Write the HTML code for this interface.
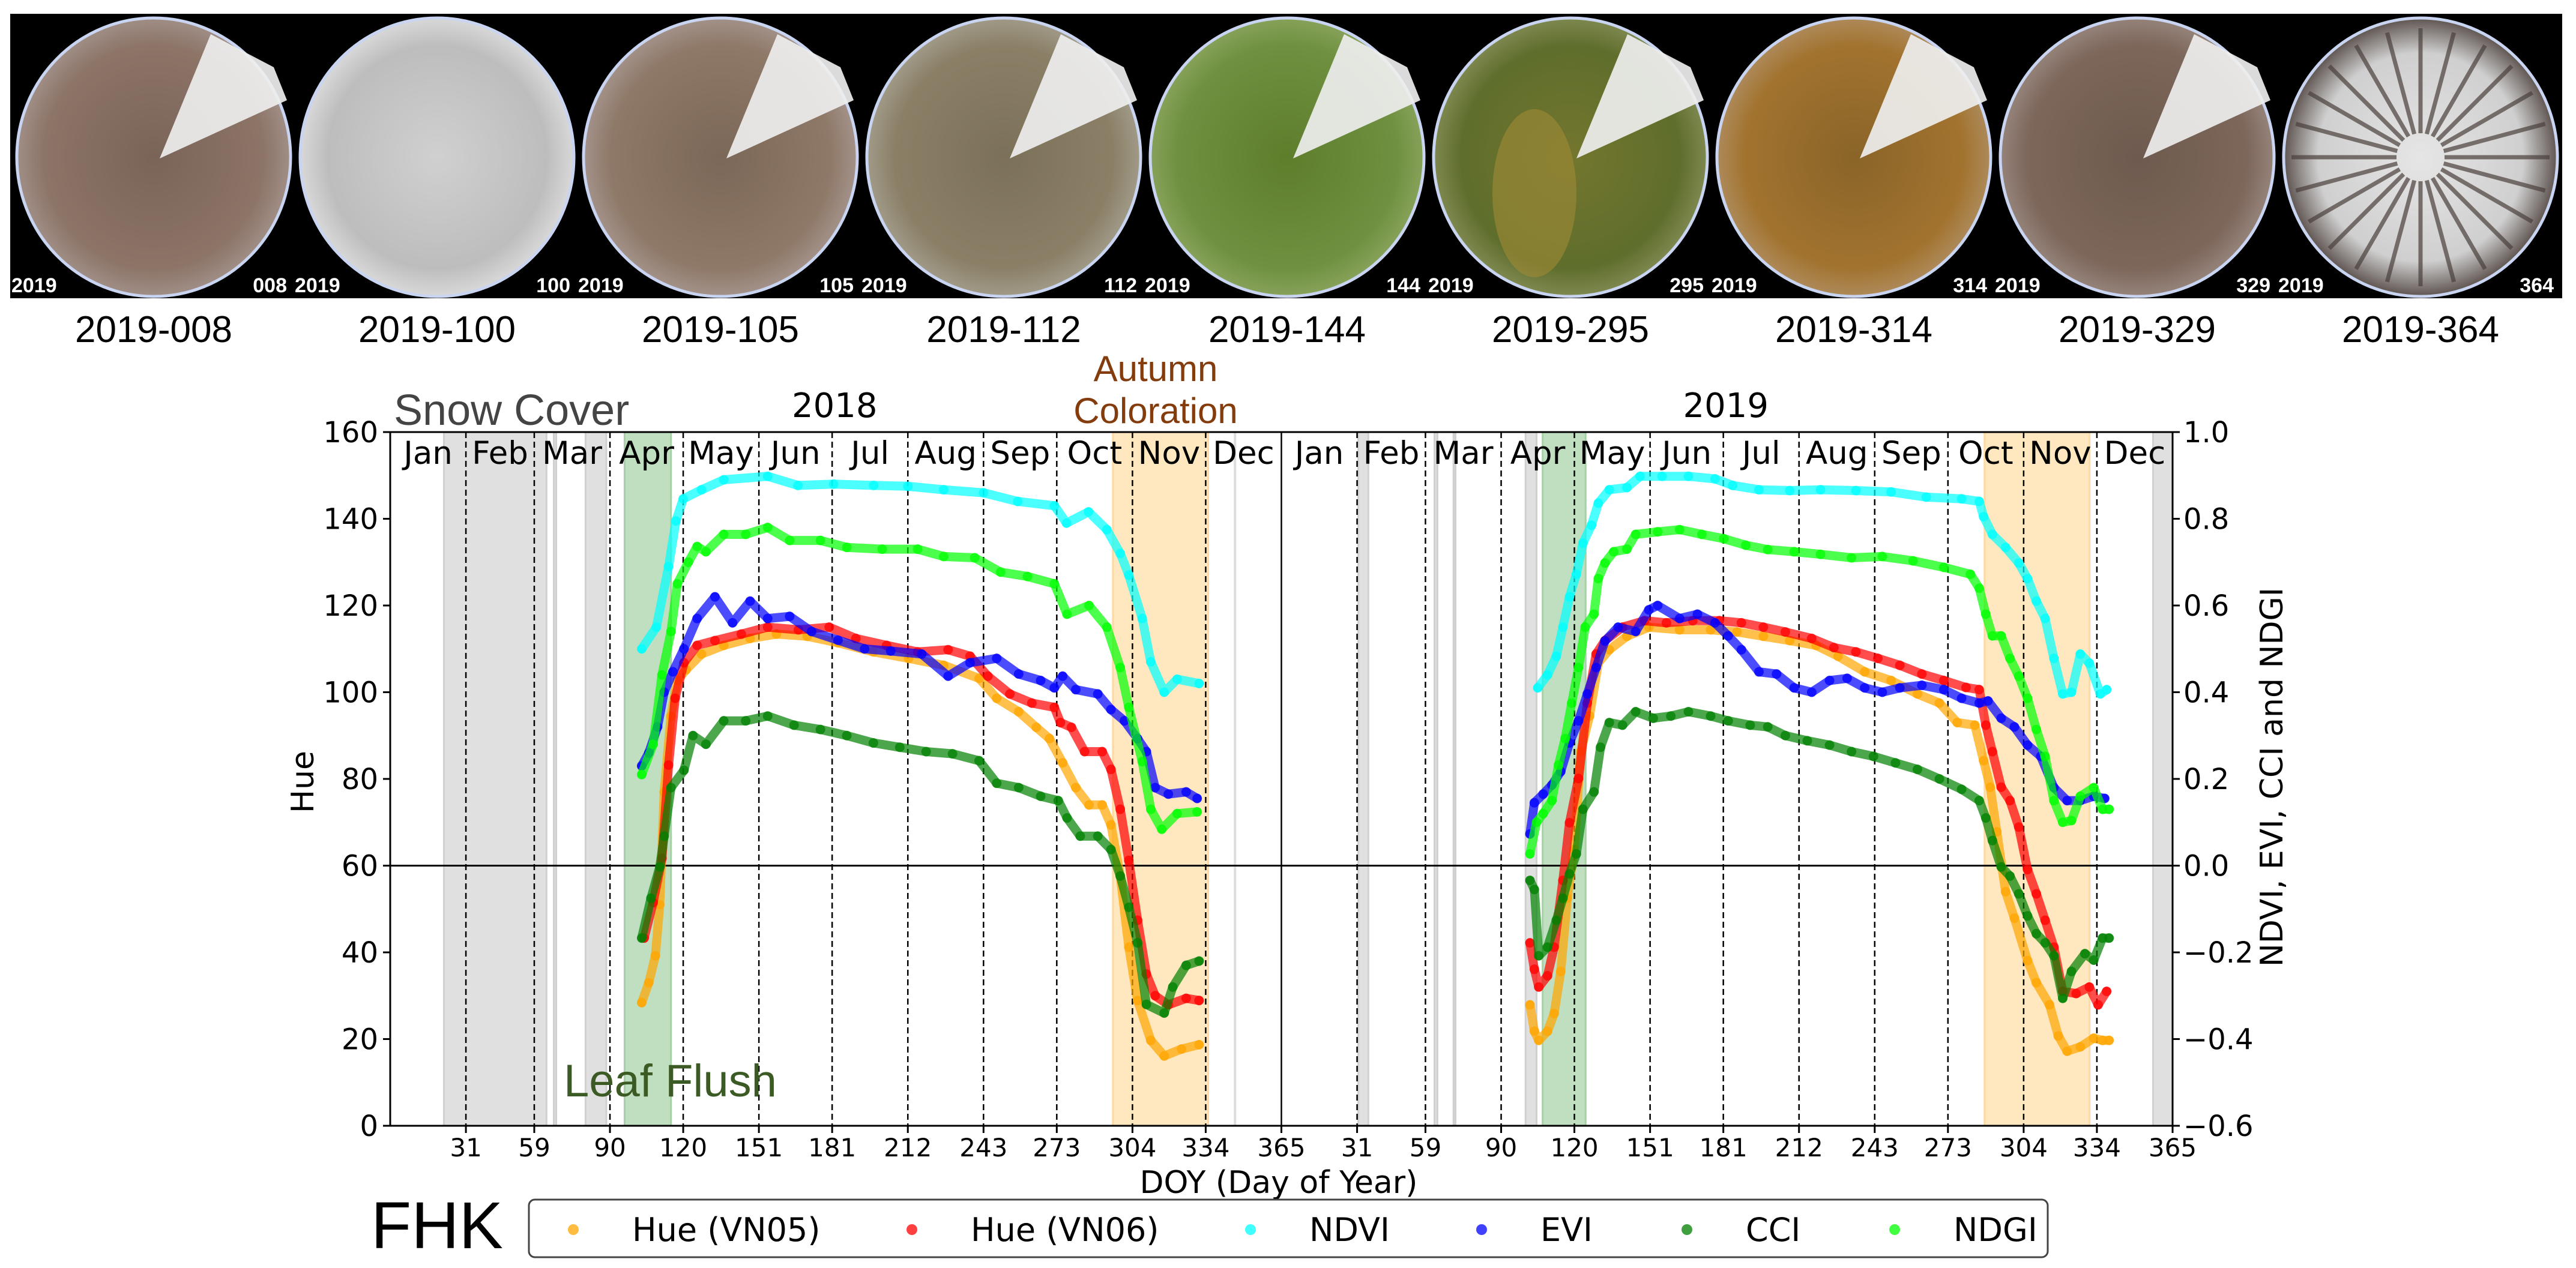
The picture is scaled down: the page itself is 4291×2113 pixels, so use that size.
<!DOCTYPE html>
<html><head><meta charset="utf-8"><title>FHK phenology chart</title>
<style>
html,body{margin:0;padding:0;background:#fff;}
svg{display:block;font-family:"DejaVu Sans","Liberation Sans",sans-serif;}
</style></head>
<body>
<svg id="chart" xmlns="http://www.w3.org/2000/svg" width="4291" height="2113" viewBox="0 0 4291 2113">
<defs>
 <radialGradient id="g0"><stop offset="0" stop-color="#7a6458"/><stop offset="0.8" stop-color="#8c7467"/><stop offset="1" stop-color="#a08e86"/></radialGradient>
 <radialGradient id="g1"><stop offset="0" stop-color="#d0d0d0"/><stop offset="0.8" stop-color="#bdbdbd"/><stop offset="1" stop-color="#d8d8d8"/></radialGradient>
 <radialGradient id="g2"><stop offset="0" stop-color="#7c6858"/><stop offset="0.8" stop-color="#8e7867"/><stop offset="1" stop-color="#a3928a"/></radialGradient>
 <radialGradient id="g3"><stop offset="0" stop-color="#7b7058"/><stop offset="0.8" stop-color="#8b8067"/><stop offset="1" stop-color="#a09a88"/></radialGradient>
 <radialGradient id="g4"><stop offset="0" stop-color="#5e7e2c"/><stop offset="0.8" stop-color="#6e9040"/><stop offset="1" stop-color="#87a25a"/></radialGradient>
 <radialGradient id="g5"><stop offset="0" stop-color="#73762e"/><stop offset="0.8" stop-color="#5f6e2c"/><stop offset="1" stop-color="#7e8850"/></radialGradient>
 <radialGradient id="g6"><stop offset="0" stop-color="#8a6428"/><stop offset="0.8" stop-color="#a2732f"/><stop offset="1" stop-color="#ad8a5a"/></radialGradient>
 <radialGradient id="g7"><stop offset="0" stop-color="#6e5a4e"/><stop offset="0.8" stop-color="#7d665a"/><stop offset="1" stop-color="#95837a"/></radialGradient>
 <radialGradient id="g8"><stop offset="0" stop-color="#e6e6e6"/><stop offset="0.75" stop-color="#cfcfcf"/><stop offset="1" stop-color="#5e5450"/></radialGradient>
</defs>
<rect x="17" y="23" width="4251" height="474" fill="#000"/>
<g id="photos"></g>
<g id="plot"></g>
</svg>
<script>
// ---------- chart data ----------
const photoLabels = ["2019-008","2019-100","2019-105","2019-112","2019-144","2019-295","2019-314","2019-329","2019-364"];
const photoDoys = ["008","100","105","112","144","295","314","329","364"];
const monthNames = ["Jan","Feb","Mar","Apr","May","Jun","Jul","Aug","Sep","Oct","Nov","Dec"];
const monthStarts = [0,31,59,90,120,151,181,212,243,273,304,334,365];
const xTickDays = [31,59,90,120,151,181,212,243,273,304,334,365];
const hueTicks = [0,20,40,60,80,100,120,140,160];
const idxTicks = [-0.6,-0.4,-0.2,0.0,0.2,0.4,0.6,0.8,1.0];
const years = [2018,2019];
// shaded periods [startDay, endDay] per year
const snow2018 = [[22,64],[67,68],[80,88.5]];
const snow2019 = [[31.5,35.6],[62.7,63.9],[70.5,71.3],[100,104.5],[357,365]];
const flush2018 = [96,115];
const flush2019 = [107,124.6];
const autumn2018 = [296,335];
const autumn2019 = [288,331];

// 2018 series
const vn05D18=[103,105.9,108.6,110.4,112.2,115,117.6,121.2,127.5,136.6,147.4,158.2,170.8,183.4,197.9,212.3,226.7,241.2,248.4,257.4,264.6,270,275.4,280.8,286.2,291.6,295.2,299,302.5,306.1,311.5,317,324.1,331.3];
const vn05V18=[28.4,33,39.2,51,77,94.5,102.7,105.2,108.8,110.8,112.4,113.4,112.9,111.4,109.3,107.8,106.2,103.2,98.6,95.5,91.9,89.3,83.7,78,74,74,69.4,57.6,41.2,28.9,19.7,16.1,17.7,18.7];
const vn06D18=[104,107.7,111.3,114,116.7,120.3,125.7,133,143.8,154.6,167.2,179.8,190.7,203.3,216,228.5,237.5,244.8,253.8,262.8,272,274.5,279,284.4,291.6,295.2,299,302.5,306.1,309.7,313.3,318.7,326,331.3];
const vn06V18=[43.3,51.5,61.7,83.2,98.6,106.8,110.8,111.9,113.4,115,114.4,115,112.4,110.8,109.3,109.8,108.3,103.7,99.6,97.5,96.5,93,91.9,86.3,86.3,82.2,73,61.2,47.4,35,30,27.9,29.4,28.9];
const ndviD18=[103,109,114,117,120,127.5,136.6,154.6,167,181.6,198,212,226.7,243,257,272,277,286,293.5,299,302.5,308,311.5,317,322.3,331.3];
const ndviV18=[0.50,0.55,0.69,0.795,0.846,0.867,0.89,0.898,0.877,0.88,0.877,0.875,0.867,0.86,0.84,0.83,0.79,0.816,0.775,0.72,0.67,0.57,0.47,0.40,0.43,0.42];
const eviD18=[103,105.9,109.5,112.2,115.8,120.3,125.7,133,140.2,147.4,154.6,163.6,172.6,183.4,194.3,205,217.7,228.5,237.5,248.4,257.4,266.4,272,275.4,280.8,289.8,295.2,300.7,306.1,309.7,313.3,318.7,326,330.5];
const eviV18=[0.23,0.26,0.32,0.40,0.447,0.50,0.57,0.62,0.56,0.61,0.57,0.575,0.54,0.52,0.50,0.495,0.488,0.437,0.468,0.478,0.442,0.427,0.41,0.437,0.406,0.396,0.36,0.334,0.293,0.263,0.18,0.165,0.17,0.155];
const cciD18=[103,106.8,110.4,112.2,115,120.3,124,129.3,136.6,145.6,154.6,165.4,176.2,187,197.9,208.7,219.5,230.3,241.2,248.4,257.4,266.4,273.6,277.2,282.6,289.8,295.2,299,302.5,306.1,309.7,317,320.5,326,331.3];
const cciV18=[-0.167,-0.075,-0.003,0.068,0.18,0.22,0.30,0.28,0.334,0.334,0.345,0.324,0.314,0.30,0.283,0.273,0.263,0.258,0.242,0.19,0.18,0.16,0.15,0.11,0.068,0.068,0.037,-0.024,-0.096,-0.178,-0.32,-0.34,-0.28,-0.23,-0.22];
const ndgiD18=[103,107.7,111.3,115,117.6,122.1,125.7,129.3,136.6,145.6,154.6,163.6,176.2,187,201.5,216,226.7,239.4,250,261,272,277.2,286.2,293.5,299,302.5,308,311.5,316,322.3,330.5];
const ndgiV18=[0.21,0.28,0.44,0.54,0.65,0.70,0.736,0.724,0.764,0.764,0.78,0.75,0.75,0.734,0.73,0.73,0.713,0.71,0.677,0.667,0.65,0.58,0.60,0.55,0.457,0.365,0.24,0.13,0.084,0.12,0.124];

// 2019 series
const vn05D19=[101.8,103.6,105.4,109,111.7,114.4,117.1,119.9,122.6,126.2,129.8,134.3,141.5,150.5,163.1,175.8,186.6,197.4,208.2,219,228,238.9,249.7,260.5,269.5,276.8,284,287.6,290.3,293,296.6,300.2,305.6,309.2,314.6,318.2,321.8,327.2,332.7,336.3,339];
const vn05V19=[27.9,21.8,19.7,21.8,25.9,35.6,52.5,63.7,86.3,94.5,106.8,109.8,112.9,115,114.4,114.4,113.9,112.9,111.9,110.8,108.3,104.7,102.7,99.6,97.5,93,92.4,84.2,78.1,67.8,54,47.9,38.1,33,27.9,20.7,17.2,18.2,20.2,19.7,19.7];
const vn06D19=[101.8,103.6,105.4,109,111.7,115.3,118,121.7,125.3,128.9,132.5,139.7,148.7,157.7,168.5,179.4,188.4,197.4,206.4,217.2,226.3,235.3,244.3,253.3,262.3,271.3,280.4,285.8,288.5,291.2,294.8,298.4,302,305.6,309.2,312.8,316.4,320,325.5,330.9,334.5,338];
const vn06V19=[42.2,36.1,32,34.6,41.2,56.6,69.9,80.1,97.5,108.8,111.9,115,116.5,116,116.5,116.5,116,115,113.9,112.4,110.3,109.3,107.8,106.2,104.2,102.7,101.1,100.6,92.4,86.3,78.1,75,68.9,59.1,53.5,47.4,41.2,31,30.5,32,27.9,31];
const ndviD19=[105,109,112.6,115.3,118,120.8,123.5,127,129.8,134.3,141.5,146.9,155.9,166.7,177.6,184.8,195.6,208.2,220.8,235.3,249.7,264.1,278.6,285.8,287.6,291.2,296.6,302,305.6,309.2,312.8,316.4,320,323.6,327.2,330.9,335.4,338];
const ndviV19=[0.41,0.44,0.483,0.55,0.62,0.672,0.744,0.785,0.836,0.867,0.872,0.898,0.898,0.898,0.892,0.877,0.867,0.865,0.867,0.865,0.862,0.85,0.846,0.84,0.805,0.764,0.734,0.698,0.662,0.61,0.57,0.478,0.396,0.40,0.488,0.467,0.396,0.406];
const eviD19=[101.8,103.6,107.2,110.8,114.4,118,121.7,125.3,128.9,132.5,137.9,145.1,150.5,154.1,163.1,170.4,177.6,183,188.4,195.6,202.8,210,217.2,224.5,231.7,238.9,246.1,253.3,262.3,271.3,278.6,285.8,289.4,294.8,300.2,305.6,311,316.4,321.8,327.2,332.7,337.2];
const eviV19=[0.073,0.145,0.165,0.186,0.217,0.283,0.334,0.396,0.457,0.518,0.55,0.54,0.59,0.60,0.57,0.58,0.56,0.53,0.498,0.447,0.442,0.41,0.40,0.427,0.432,0.41,0.40,0.41,0.416,0.406,0.386,0.375,0.38,0.34,0.32,0.278,0.252,0.18,0.15,0.15,0.16,0.155];
const cciD19=[101.8,103.6,105.4,109,112.6,115.3,118,120.8,123.5,128,130.7,134.3,139.7,145.1,152.3,159.5,166.7,175.8,183,192,199.2,206.4,215.4,224.5,233.5,242.5,251.5,260.5,269.5,278.6,285.8,288.5,291.2,294.8,298.4,302,305.6,309.2,312.8,316.4,320,323.6,329.1,332.7,336.3,339];
const cciV19=[-0.034,-0.055,-0.208,-0.188,-0.126,-0.075,-0.019,0.027,0.13,0.17,0.273,0.33,0.324,0.355,0.34,0.345,0.355,0.345,0.334,0.324,0.32,0.30,0.288,0.278,0.263,0.252,0.237,0.222,0.20,0.176,0.15,0.11,0.058,-0.003,-0.024,-0.065,-0.116,-0.157,-0.178,-0.208,-0.306,-0.244,-0.203,-0.218,-0.167,-0.167];
const ndgiD19=[101.8,104.5,107.2,110.8,113.5,116.2,118.9,121.7,124.4,128,129.8,132.5,136.1,141.5,145.1,154.1,163.1,172.2,181.2,190.2,199.2,210,220.8,233.5,246.1,258.7,271.3,282.2,285.8,288.5,291.2,294.8,298.4,302,305.6,309.2,312.8,316.4,320,323.6,327.2,332.7,336.3,339];
const ndgiV19=[0.027,0.10,0.12,0.15,0.232,0.293,0.375,0.457,0.55,0.58,0.662,0.698,0.724,0.73,0.764,0.77,0.775,0.764,0.754,0.739,0.729,0.724,0.718,0.71,0.713,0.703,0.688,0.672,0.64,0.58,0.53,0.53,0.478,0.437,0.386,0.314,0.252,0.15,0.10,0.104,0.16,0.18,0.13,0.13];

const seriesNames = ["Hue (VN05)","Hue (VN06)","NDVI","EVI","CCI","NDGI"];
const seriesColors = ["#ffa500","#ff0000","#00ffff","#0000ff","#008000","#00ff00"];

// ---------- layout / scales ----------
const NS="http://www.w3.org/2000/svg";
const L=650, R=3619, T=720, B=1876;
function xDay(day, year){ return L + (day + (year===2019?365:0)) * (R-L)/730; }
function yHue(h){ return B - h*(B-T)/160; }
function yIdx(v){ return yHue(60 + v*100); }
function mk(tag, attrs, parent){
  const e=document.createElementNS(NS,tag);
  for(const k in attrs) e.setAttribute(k, attrs[k]);
  parent.appendChild(e); return e;
}
const plot=document.getElementById('plot');
const photos=document.getElementById('photos');

// ---------- photos ----------
photoLabels.forEach((lab,i)=>{
  const cx=256+472*i, cy=262;
  const g=mk('g',{},photos);
  
  
  mk('ellipse',{cx:cx,cy:cy,rx:228,ry:232,fill:'url(#g'+i+')',stroke:'#c8d4f0','stroke-width':5},g);
  if(i===8){
    for(let a=0;a<24;a++){const an=a*Math.PI/12;
      mk('line',{x1:cx+40*Math.cos(an),y1:cy+40*Math.sin(an),x2:cx+215*Math.cos(an),y2:cy+215*Math.sin(an),stroke:'#4a403c','stroke-width':7,opacity:0.7},g);}
  } else if(i!==1){
    mk('polygon',{points:`${cx+10},${cy+2} ${cx+95},${cy-205} ${cx+200},${cy-150} ${cx+222},${cy-95}`,fill:'#eeeeee',opacity:0.92},g);
  }
  if(i===5){ mk('ellipse',{cx:cx-60,cy:cy+60,rx:70,ry:140,fill:'#a08a35',opacity:0.6},g); }
  const t1=mk('text',{x:cx-237,y:487,'font-size':34,'font-weight':'bold',fill:'#fff','font-family':'Liberation Sans Narrow, Liberation Sans, sans-serif'},g);
  t1.textContent='2019';
  const t2=mk('text',{x:cx+222,y:487,'font-size':34,'font-weight':'bold',fill:'#fff','text-anchor':'end','font-family':'Liberation Sans Narrow, Liberation Sans, sans-serif'},g);
  t2.textContent=photoDoys[i];
  const t3=mk('text',{x:cx,y:570,'font-size':62,fill:'#000','text-anchor':'middle','font-family':'Liberation Sans Narrow, Liberation Sans, sans-serif'},photos);
  
  
  t3.textContent=lab;
});

// ---------- shaded regions ----------
function band(d0,d1,yr,fill,stroke,name){
  const r=mk('rect',{x:xDay(d0,yr),y:T,width:Math.max(2,xDay(d1,yr)-xDay(d0,yr)),height:B-T,fill:fill,stroke:stroke,'stroke-width':3},plot);
  
  
}
snow2018.forEach(s=>band(s[0],s[1],2018,'#e0e0e0','#d0d0d0','snow-cover-band'));
snow2019.forEach(s=>band(s[0],s[1],2019,'#e0e0e0','#d0d0d0','snow-cover-band'));
band(flush2018[0],flush2018[1],2018,'#c0dfc0','#a8d0a8','leaf-flush-band');
band(flush2019[0],flush2019[1],2019,'#c0dfc0','#a8d0a8','leaf-flush-band');
band(autumn2018[0],autumn2018[1],2018,'#ffe8c0','#ffd9a0','autumn-coloration-band');
band(autumn2019[0],autumn2019[1],2019,'#ffe8c0','#ffd9a0','autumn-coloration-band');
mk('line',{x1:xDay(346,2018),y1:T,x2:xDay(346,2018),y2:B,stroke:'#dddddd','stroke-width':4},plot);

// month dashed lines and labels
years.forEach(yr=>{
  monthStarts.slice(1,12).forEach(d=>{
    const l=mk('line',{x1:xDay(d,yr),y1:T,x2:xDay(d,yr),y2:B,stroke:'#000','stroke-width':2.5,'stroke-dasharray':'10,6'},plot);
    
    
  });
  monthNames.forEach((m,k)=>{
    const t=mk('text',{x:xDay((monthStarts[k]+monthStarts[k+1])/2,yr),y:773,'font-size':53,'text-anchor':'middle',fill:'#000'},plot);
    
    
    t.textContent=m;
  });
  const yt=mk('text',{x:xDay(182,yr),y:695,'font-size':56,'text-anchor':'middle',fill:'#000'},plot);
  
  
  yt.textContent=String(yr);
});
// year separator & zero line
mk('line',{x1:xDay(365,2018),y1:T,x2:xDay(365,2018),y2:B,stroke:'#000','stroke-width':2.5},plot);
const zl=mk('line',{x1:L,y1:yHue(60),x2:R,y2:yHue(60),stroke:'#000','stroke-width':3},plot);



// ---------- series ----------
const allSeries=[
 [[vn05D18,vn05V18,2018],[vn05D19,vn05V19,2019],'hue'],
 [[vn06D18,vn06V18,2018],[vn06D19,vn06V19,2019],'hue'],
 [[ndviD18,ndviV18,2018],[ndviD19,ndviV19,2019],'idx'],
 [[eviD18,eviV18,2018],[eviD19,eviV19,2019],'idx'],
 [[cciD18,cciV18,2018],[cciD19,cciV19,2019],'idx'],
 [[ndgiD18,ndgiV18,2018],[ndgiD19,ndgiV19,2019],'idx'],
];
allSeries.forEach((s,si)=>{
  const g=mk('g',{},plot);
  
  
  [s[0],s[1]].forEach(part=>{
    const [D,V,yr]=part;
    const yf = s[2]==='hue'? yHue : yIdx;
    const pts=D.map((d,k)=>xDay(d,yr).toFixed(1)+','+yf(V[k]).toFixed(1)).join(' ');
    mk('polyline',{points:pts,fill:'none',stroke:seriesColors[si],'stroke-width':15,'stroke-linejoin':'round','stroke-linecap':'round',opacity:0.7},g);
    D.forEach((d,k)=>{
      const c=mk('circle',{cx:xDay(d,yr),cy:yf(V[k]),r:8,fill:seriesColors[si],opacity:0.75},g);
      
      
    });
  });
});

// ---------- axes ----------
const frame=mk('rect',{x:L,y:T,width:R-L,height:B-T,fill:'none',stroke:'#000','stroke-width':3},plot);


hueTicks.forEach(h=>{
  mk('line',{x1:L-12,y1:yHue(h),x2:L,y2:yHue(h),stroke:'#000','stroke-width':3},plot);
  const t=mk('text',{x:L-20,y:yHue(h)+17,'font-size':48,'text-anchor':'end',fill:'#000'},plot);
  
  
  t.textContent=String(h);
});
idxTicks.forEach(v=>{
  mk('line',{x1:R,y1:yIdx(v),x2:R+12,y2:yIdx(v),stroke:'#000','stroke-width':3},plot);
  const t=mk('text',{x:R+18,y:yIdx(v)+17,'font-size':48,fill:'#000'},plot);
  
  
  t.textContent=(v<0?'\u2212':'')+Math.abs(v).toFixed(1);
});
years.forEach(yr=>{
  xTickDays.forEach(d=>{
    mk('line',{x1:xDay(d,yr),y1:B,x2:xDay(d,yr),y2:B+12,stroke:'#000','stroke-width':3},plot);
    const t=mk('text',{x:xDay(d,yr),y:1927,'font-size':42,'text-anchor':'middle',fill:'#000'},plot);
    
    
    t.textContent=String(d);
  });
});

// ---------- titles / annotations ----------
function txt(name,x,y,size,str,extra){
  const t=mk('text',Object.assign({x:x,y:y,'font-size':size,fill:'#000'},extra||{}),plot);
  
  
  t.textContent=str; return t;
}
txt('x-axis-title',2130,1988,52,'DOY (Day of Year)',{'text-anchor':'middle'});
txt('y-left-axis-title',0,0,52,'Hue',{'text-anchor':'middle',transform:'translate(522,1303) rotate(-90)'});
txt('y-right-axis-title',0,0,52,'NDVI, EVI, CCI and NDGI',{'text-anchor':'middle',transform:'translate(3802,1295) rotate(-90)'});
txt('snow-cover-label',656,708,72,'Snow Cover',{fill:'#444444','font-family':'Liberation Sans, sans-serif'});
txt('autumn-coloration-label',1925,635,60,'Autumn',{fill:'#843c0c','text-anchor':'middle','font-family':'Liberation Sans, sans-serif'});
txt('autumn-coloration-label-2',1925,705,60,'Coloration',{fill:'#843c0c','text-anchor':'middle','font-family':'Liberation Sans, sans-serif'});
txt('leaf-flush-label',939,1827,76,'Leaf Flush',{fill:'#3b5a24','font-family':'Liberation Sans, sans-serif'});
txt('site-label-fhk',618,2080,110,'FHK',{'font-family':'Liberation Sans, sans-serif'});

// ---------- legend ----------
const lg=mk('g',{},plot);


mk('rect',{x:881,y:1999,width:2530,height:96,rx:10,fill:'#fff',stroke:'#444','stroke-width':3},lg);
const legMarkX=[955,1519,2083,2468,2810,3156];
seriesNames.forEach((n,i)=>{
  const e=mk('g',{},lg);
  
  
  mk('circle',{cx:legMarkX[i],cy:2049,r:9,fill:seriesColors[i],opacity:0.75},e);
  const t=mk('text',{x:legMarkX[i]+98,y:2068,'font-size':54,fill:'#000'},e);
  t.textContent=n;
});
</script>
</body></html>
